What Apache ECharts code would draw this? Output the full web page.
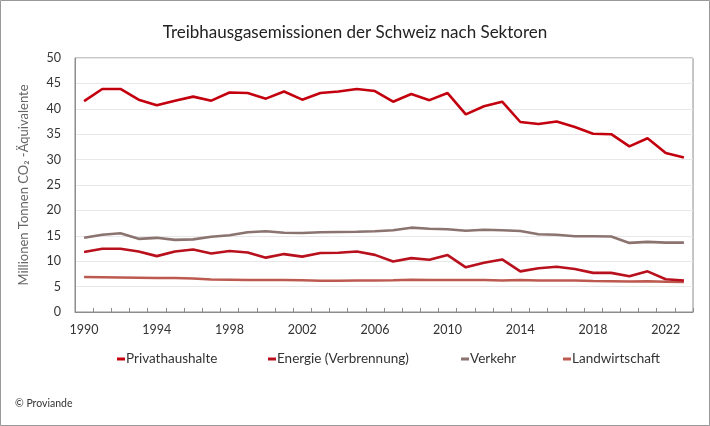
<!DOCTYPE html>
<html>
<head>
<meta charset="utf-8">
<script src="https://cdn.jsdelivr.net/npm/echarts@6/dist/echarts.min.js"></script>
<style>
  html, body { margin: 0; padding: 0; background: #fff; }
  #chart { width: 710px; height: 426px; }
</style>
</head>
<body>
<div id="chart"></div>
<script>
var years = [];
for (var y = 1990; y <= 2023; y++) years.push(String(y));

var privathaushalte = [41.5, 43.9, 43.9, 41.8, 40.7, 41.6, 42.4, 41.6, 43.2, 43.1, 42.0, 43.4, 41.8, 43.1, 43.4, 43.9, 43.5,
    41.4, 42.9, 41.7, 43.1, 38.9, 40.5, 41.4, 37.4, 37.0, 37.5, 36.4, 35.1, 35.0, 32.6, 34.2, 31.3, 30.4];
var energie = [11.8, 12.45, 12.45, 11.9, 11.0, 11.9, 12.3, 11.5, 12.0, 11.7, 10.7, 11.4, 10.9, 11.6, 11.65, 11.9, 11.25,
    9.95, 10.6, 10.3, 11.2, 8.8, 9.7, 10.35, 8.0, 8.6, 8.9, 8.45, 7.7, 7.7, 7.05, 8.0, 6.45, 6.2];
var verkehr = [14.6, 15.2, 15.5, 14.4, 14.6, 14.2, 14.3, 14.8, 15.1, 15.7, 15.9, 15.6, 15.55, 15.7, 15.75, 15.8, 15.9,
    16.1, 16.6, 16.4, 16.3, 16.0, 16.2, 16.1, 15.95, 15.3, 15.2, 14.9, 14.9, 14.85, 13.6, 13.8, 13.65, 13.65];
var landwirtschaft = [6.9, 6.85, 6.8, 6.75, 6.7, 6.7, 6.6, 6.4, 6.35, 6.3, 6.3, 6.3, 6.25, 6.15, 6.15, 6.2, 6.2,
    6.25, 6.35, 6.3, 6.3, 6.3, 6.3, 6.2, 6.3, 6.2, 6.2, 6.2, 6.1, 6.05, 6.0, 6.05, 5.95, 5.9];

var names = ['Privathaushalte', 'Energie (Verbrennung)', 'Verkehr', 'Landwirtschaft'];
var colors = ['#c3000e', '#b8101c', '#8b7370', '#bd5a50'];
var values = [privathaushalte, energie, verkehr, landwirtschaft];
var legendLeft = [112, 263, 456, 558];

var font = 'Lato';

var chart = echarts.init(document.getElementById('chart'));

var series = names.map(function (n, i) {
    return {
        name: n,
        type: 'line',
        data: values[i],
        symbol: 'none',
        lineStyle: { color: colors[i], width: 2.6 },
        itemStyle: { color: colors[i] },
        z: 10 - i
    };
});

var legends = names.map(function (n, i) {
    return {
        data: [n],
        left: legendLeft[i],
        top: 347,
        icon: 'rect',
        itemWidth: 8,
        itemHeight: 3,
        textStyle: { fontFamily: font, fontSize: 13.5, color: '#333', padding: [0, 0, 0, -4] }
    };
});

var option = {
    animation: false,
    backgroundColor: '#fff',
    title: {
        text: 'Treibhausgasemissionen der Schweiz nach Sektoren',
        left: 'center',
        top: 19,
        textStyle: { fontFamily: font, fontSize: 17, fontWeight: 'normal', color: '#222' }
    },
    legend: legends,
    grid: {
        left: 75, right: 17, top: 58, bottom: 114,
        show: true, borderColor: '#8c8c8c', borderWidth: 1
    },
    xAxis: {
        type: 'category',
        data: years,
        boundaryGap: true,
        axisLine: { lineStyle: { color: '#8c8c8c' } },
        axisTick: { show: true, inside: true, length: 4, interval: 0, lineStyle: { color: '#8c8c8c' } },
        axisLabel: { interval: 3, fontFamily: font, fontSize: 12.5, color: '#333', margin: 11 }
    },
    yAxis: {
        type: 'value',
        min: 0, max: 50, interval: 5,
        name: 'Millionen Tonnen CO\u2082 -\u00c4quivalente',
        nameLocation: 'middle',
        nameGap: 45,
        nameTextStyle: { fontFamily: font, fontSize: 13, color: '#666' },
        axisLine: { show: true, lineStyle: { color: '#8c8c8c' } },
        axisTick: { show: false },
        axisLabel: { fontFamily: font, fontSize: 12.5, color: '#333', margin: 14 },
        splitLine: { lineStyle: { color: '#e8e8e8' } }
    },
    graphic: [
        {
            type: 'rect',
            shape: { x: 0.5, y: 0.5, width: 709, height: 425 },
            style: { fill: 'none', stroke: '#999', lineWidth: 1 },
            silent: true
        },
        {
            type: 'text',
            left: 15,
            top: 398,
            style: { text: '\u00a9 Proviande', font: '10.5px ' + font, fill: '#333' }
        }
    ],
    series: series
};

chart.setOption(option);
</script>
</body>
</html>
